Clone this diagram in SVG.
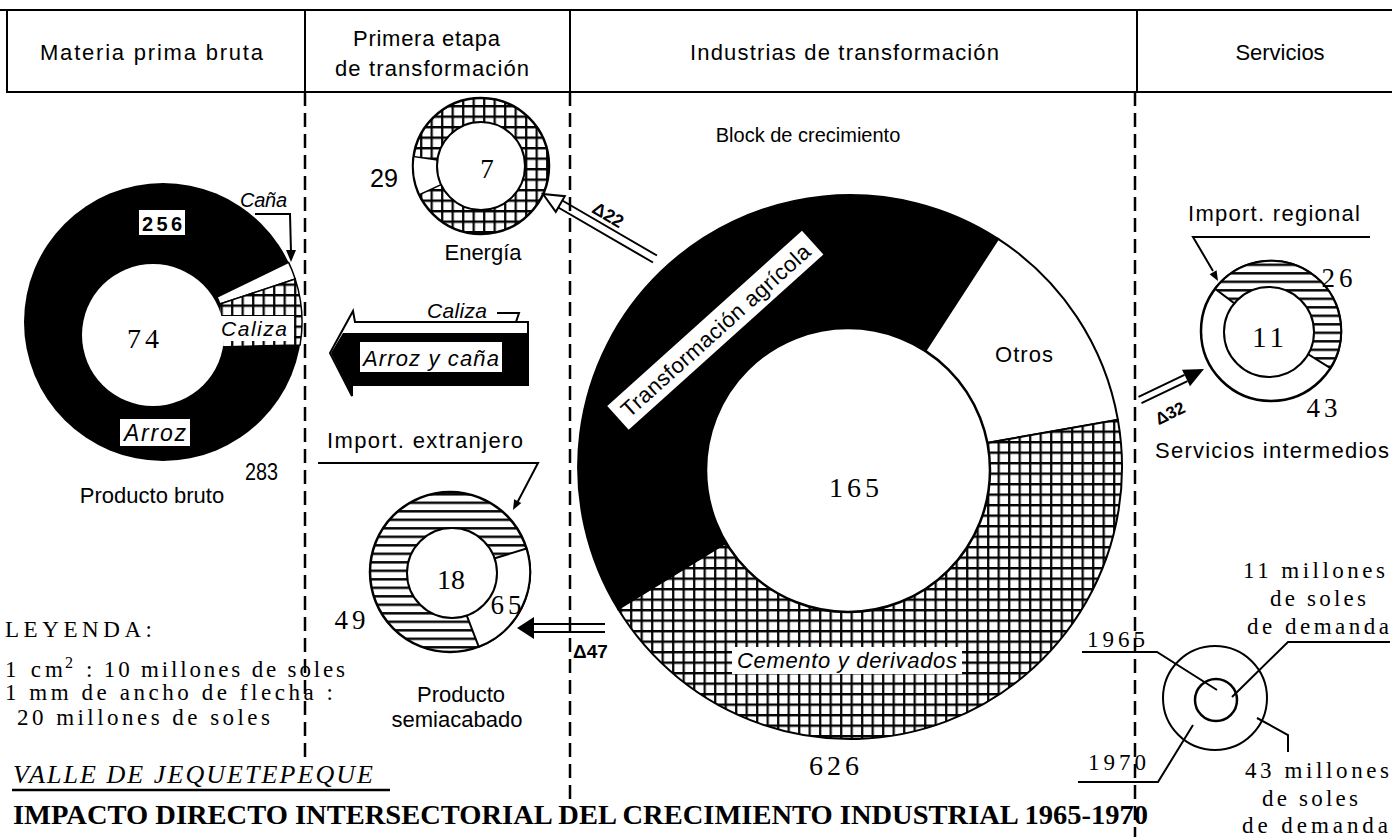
<svg xmlns="http://www.w3.org/2000/svg" width="1392" height="837" viewBox="0 0 1392 837">
<style>
.sans{font-family:"Liberation Sans",Arial,sans-serif;fill:#000}
.serif{font-family:"Liberation Serif","Times New Roman",serif;fill:#000}
.it{font-style:italic}
.b{font-weight:bold}
.ln{stroke:#000;stroke-width:2;fill:none}
.dash{stroke:#000;stroke-width:2.5;stroke-dasharray:14 7;fill:none}
.wb{fill:#fff;stroke:none}
.num{letter-spacing:4px}
</style>
<defs>
<pattern id="xh" patternUnits="userSpaceOnUse" width="10.5" height="10.5">
<rect width="10.5" height="10.5" fill="#fff"/>
<path d="M0,1.2H10.5M1.2,0V10.5" stroke="#000" stroke-width="2.2"/>
</pattern>
<pattern id="hh" patternUnits="userSpaceOnUse" width="10" height="8.5">
<rect width="10" height="8.5" fill="#fff"/>
<path d="M0,1.3H10" stroke="#000" stroke-width="2.4"/>
</pattern>
</defs>
<rect width="1392" height="837" fill="#fff"/>

<g id="header">
<path class="ln" d="M0,10H1392M7,10V92H1392M305,10V92M570,10V92M1137,10V92"/>
<text class="sans" x="40" y="60" font-size="22" textLength="223">Materia prima bruta</text>
<text class="sans" x="353" y="46" font-size="22" textLength="147">Primera etapa</text>
<text class="sans" x="335" y="76" font-size="22" textLength="194">de transformación</text>
<text class="sans" x="690" y="60" font-size="22" textLength="309">Industrias de transformación</text>
<text class="sans" x="1280" y="60" font-size="22" text-anchor="middle">Servicios</text>
</g>

<g id="separators">
<path class="dash" d="M305,92V757"/>
<path class="dash" d="M570,92V805"/>
<path class="dash" d="M1135,92V837"/>
</g>

<g id="n-producto-bruto">
<circle cx="163" cy="322" r="139" fill="#000"/>
<path d="M217,297 L288.6,262.4 A139,139 0 0 1 295.2,279 L220,304 Z" fill="#fff" stroke="#000" stroke-width="1.5"/>
<path d="M220,304 L295.2,279 A139,139 0 0 1 300.1,345 L218,347 Z" fill="url(#xh)" stroke="#000" stroke-width="1.5"/>
<circle cx="153" cy="335" r="71" fill="#fff"/>
<rect class="wb" x="219" y="316" width="75" height="25"/>
<text class="sans it" x="221" y="336" font-size="21" textLength="66">Caliza</text>
<rect class="wb" x="139" y="210" width="46" height="25"/>
<text class="sans b" x="142" y="231" font-size="20" textLength="40">256</text>
<rect class="wb" x="120" y="419" width="70" height="27"/>
<text class="sans it" x="124" y="441" font-size="23" textLength="62">Arroz</text>
<text class="serif num" x="145" y="348" font-size="28" text-anchor="middle">74</text>
<text class="sans it" x="240" y="207" font-size="20" textLength="47">Caña</text>
<text class="sans" x="245" y="480" font-size="24" textLength="33" lengthAdjust="spacingAndGlyphs">283</text>
<text class="sans" x="152" y="503" font-size="22" text-anchor="middle">Producto bruto</text>
</g>

<g id="n-energia">
<circle cx="481" cy="166" r="68" fill="url(#xh)" stroke="#000" stroke-width="2.5"/>
<path d="M441.1,184.6 L419.4,194.7 A68,68 0 0 1 413.7,156.5 L437.4,159.9 Z" fill="#fff" stroke="#000" stroke-width="1.5"/>
<circle cx="481" cy="166" r="44" fill="#fff" stroke="#000" stroke-width="2"/>
<text class="serif" x="487" y="178" font-size="27" text-anchor="middle">7</text>
<text class="sans" x="370" y="187" font-size="25" textLength="28" lengthAdjust="spacingAndGlyphs">29</text>
<text class="sans" x="483" y="260" font-size="22" text-anchor="middle">Energía</text>
</g>

<g id="n-semiacabado">
<circle cx="450" cy="572" r="80" fill="url(#hh)" stroke="#000" stroke-width="2.5"/>
<path d="M450,572 L526.5,548.6 A80,80 0 0 1 478.7,646.7 Z" fill="#fff" stroke="#000" stroke-width="2"/>
<circle cx="452" cy="573" r="45" fill="#fff" stroke="#000" stroke-width="2"/>
<text class="serif" x="451" y="589" font-size="28" text-anchor="middle">18</text>
<text class="serif num" x="508" y="614" font-size="27" text-anchor="middle">65</text>
<text class="serif num" x="352" y="629" font-size="27" text-anchor="middle">49</text>
<text class="sans" x="327" y="448" font-size="22" textLength="196">Import. extranjero</text>
<text class="sans" x="461" y="702" font-size="22" text-anchor="middle">Producto</text>
<text class="sans" x="457" y="727" font-size="22" text-anchor="middle">semiacabado</text>
</g>

<g id="n-block">
<path d="M850,467 L618.1,609.1 A272,272 0 0 1 998.1,238.9 Z" fill="#000" stroke="#000" stroke-width="2"/>
<path d="M850,467 L998.1,238.9 A272,272 0 0 1 1117.9,419.8 Z" fill="#fff" stroke="#000" stroke-width="2"/>
<path d="M850,467 L1117.9,419.8 A272,272 0 0 1 618.1,609.1 Z" fill="url(#xh)" stroke="#000" stroke-width="2"/>
<circle cx="848" cy="470" r="142" fill="#fff" stroke="#000" stroke-width="2.5"/>
<g transform="translate(716,331) rotate(-42)">
<rect class="wb" x="-131" y="-17" width="262" height="32"/>
<text class="sans" x="-123" y="7" font-size="22" textLength="246">Transformación agrícola</text>
</g>
<text class="sans" x="995" y="362" font-size="22" textLength="58">Otros</text>
<text class="serif num" x="856" y="497" font-size="28" text-anchor="middle">165</text>
<rect class="wb" x="732" y="647" width="230" height="27"/>
<text class="sans it" x="737" y="668" font-size="22" textLength="220">Cemento y derivados</text>
<text class="serif num" x="836" y="775" font-size="28" text-anchor="middle">626</text>
<text class="sans" x="808" y="142" font-size="20" text-anchor="middle">Block de crecimiento</text>
</g>

<g id="n-servicios">
<circle cx="1271" cy="331" r="70" fill="#fff" stroke="#000" stroke-width="2.5"/>
<path d="M1271,331 L1215.1,288.9 A70,70 0 0 1 1330.4,368.1 Z" fill="url(#hh)" stroke="#000" stroke-width="2"/>
<circle cx="1269" cy="332" r="45" fill="#fff" stroke="#000" stroke-width="2"/>
<text class="serif num" x="1270" y="347" font-size="29" text-anchor="middle">11</text>
<text class="serif num" x="1339" y="287" font-size="27" text-anchor="middle">26</text>
<text class="serif num" x="1324" y="417" font-size="27" text-anchor="middle">43</text>
<text class="sans" x="1188" y="221" font-size="22" textLength="172">Import. regional</text>
<text class="sans" x="1155" y="458" font-size="22" textLength="234">Servicios intermedios</text>
</g>

<g id="connectors">
<path class="ln" d="M255,214H290L291,252"/>
<path d="M286,250L296,250L291,262Z" fill="#000"/>
<path class="ln" d="M318,463H538L516,505"/>
<path d="M513,510L521.3,503L514.1,499.2Z" fill="#000"/>
<path class="ln" d="M1370,237H1193L1213,271"/>
<path d="M1218,281L1216.6,270.3L1209.6,274.3Z" fill="#000"/>
<path class="ln" d="M497,313H519L516,322"/>
<path d="M528,322H355L353,311L330,353L352,396L352,385H528Z" fill="#fff" stroke="#000" stroke-width="2"/>
<path d="M528,333H343L331,353L351,394L352,385H528Z" fill="#000"/>
<rect class="wb" x="360" y="342" width="142" height="30"/>
<text class="sans it" x="363" y="366" font-size="22" textLength="136">Arroz y caña</text>
<text class="sans it" x="427" y="318" font-size="21" textLength="60">Caliza</text>
<path class="ln" d="M657,255.5L562.3,200.5M653,262.5L558.3,207.5"/>
<path d="M543,194L564.8,196.2L555.8,211.8Z" fill="#fff" stroke="#000" stroke-width="2"/>
<text class="sans b" x="608" y="221" font-size="18" text-anchor="middle" transform="rotate(30,608,215)">Δ22</text>
<path class="ln" d="M533,624H605M533,632H605"/>
<path d="M517,628L534,617L534,639Z" fill="#000"/>
<text class="sans b" x="573" y="658" font-size="19">Δ47</text>
<path class="ln" d="M1141.5,403.2L1187.5,381.2M1138.5,396.8L1184.5,374.8"/>
<path d="M1204,369L1190,386.2L1182,369.8Z" fill="#000"/>
<text class="sans b" x="1170" y="419" font-size="17" text-anchor="middle" transform="rotate(-26,1170,413)">Δ32</text>
</g>

<g id="legend-left">
<text class="serif" x="5" y="637" font-size="23" textLength="147">LEYENDA:</text>
<text class="serif" x="5" y="677" font-size="23" textLength="58">1 cm</text>
<text class="serif" x="65" y="668" font-size="16">2</text>
<text class="serif" x="86" y="677" font-size="23" textLength="259">: 10 millones de soles</text>
<text class="serif" x="5" y="700" font-size="23" textLength="328">1 mm de ancho de flecha :</text>
<text class="serif" x="17" y="725" font-size="23" textLength="253">20 millones de soles</text>
<text class="serif it" x="13" y="783" font-size="26" textLength="360">VALLE DE JEQUETEPEQUE</text>
<path d="M12,790H390" stroke="#000" stroke-width="2.5"/>
</g>

<g id="legend-right">
<text class="serif" x="1243" y="578" font-size="23" textLength="142">11 millones</text>
<text class="serif" x="1270" y="606" font-size="23" textLength="96">de soles</text>
<text class="serif" x="1247" y="634" font-size="23" textLength="142">de demanda</text>
<text class="serif" x="1087" y="647" font-size="23" textLength="58">1965</text>
<text class="serif" x="1088" y="770" font-size="23" textLength="58">1970</text>
<text class="serif" x="1245" y="778" font-size="23" textLength="144">43 millones</text>
<text class="serif" x="1262" y="806" font-size="23" textLength="96">de soles</text>
<text class="serif" x="1242" y="833" font-size="23" textLength="146">de demanda</text>
<circle cx="1215" cy="698" r="52" fill="none" stroke="#000" stroke-width="2"/>
<circle cx="1216" cy="700" r="21" fill="none" stroke="#000" stroke-width="2.5"/>
<path class="ln" d="M1082,652H1157L1217,690M1390,642H1288L1232,697M1078,782H1158L1193,725M1257,718L1288,735V752"/>
</g>

<g id="title">
<text class="serif b" x="13" y="824" font-size="27" textLength="1135" lengthAdjust="spacingAndGlyphs">IMPACTO DIRECTO INTERSECTORIAL DEL CRECIMIENTO INDUSTRIAL 1965-1970</text>
</g>
</svg>
